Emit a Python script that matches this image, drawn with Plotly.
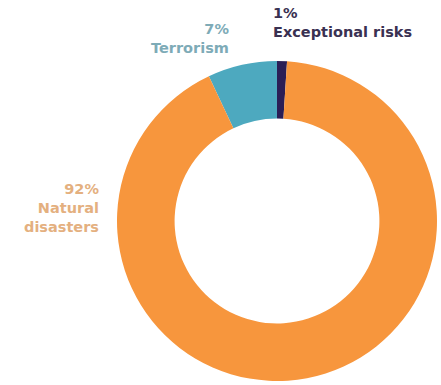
import plotly.graph_objects as go

categories = ["Exceptional risks", "Terrorism", "Natural disasters"]
shares = [1, 7, 92]
slice_colors = ["#2B1E55", "#4DA9BF", "#F7963D"]
label_texts = ["1%<br>Exceptional risks", "7%<br>Terrorism", "92%<br>Natural<br>disasters"]
label_colors = ["#3A3152", "#7EABB7", "#E4B07F"]

W, H = 441, 385

fig = go.Figure(go.Pie(
    labels=categories,
    values=shares,
    sort=False,
    direction="counterclockwise",
    rotation=0,
    hole=0.64,
    textinfo="none",
    hoverinfo="label+percent",
    marker=dict(colors=slice_colors, line=dict(width=0)),
    domain=dict(x=[117 / W, 437 / W], y=[(H - 381) / H, (H - 61) / H]),
    showlegend=False,
))

def px(x):
    return x / W

def py(y):
    return 1 - y / H

# (x, y, xanchor, align) anchor positions in pixels
placements = [
    (271, 22, "left", "left"),
    (231, 38, "right", "right"),
    (101, 208, "right", "right"),
]
for t, c, (x, y, xa, al) in zip(label_texts, label_colors, placements):
    fig.add_annotation(
        text=t, x=px(x), y=py(y), xref="paper", yref="paper",
        xanchor=xa, yanchor="middle", align=al, showarrow=False,
        font=dict(family="DejaVu Sans", size=14.5, color=c, weight="bold"),
    )

fig.update_layout(
    width=W, height=H,
    margin=dict(l=0, r=0, t=0, b=0),
    paper_bgcolor="white",
    plot_bgcolor="white",
)

fig.write_html("out.html")
